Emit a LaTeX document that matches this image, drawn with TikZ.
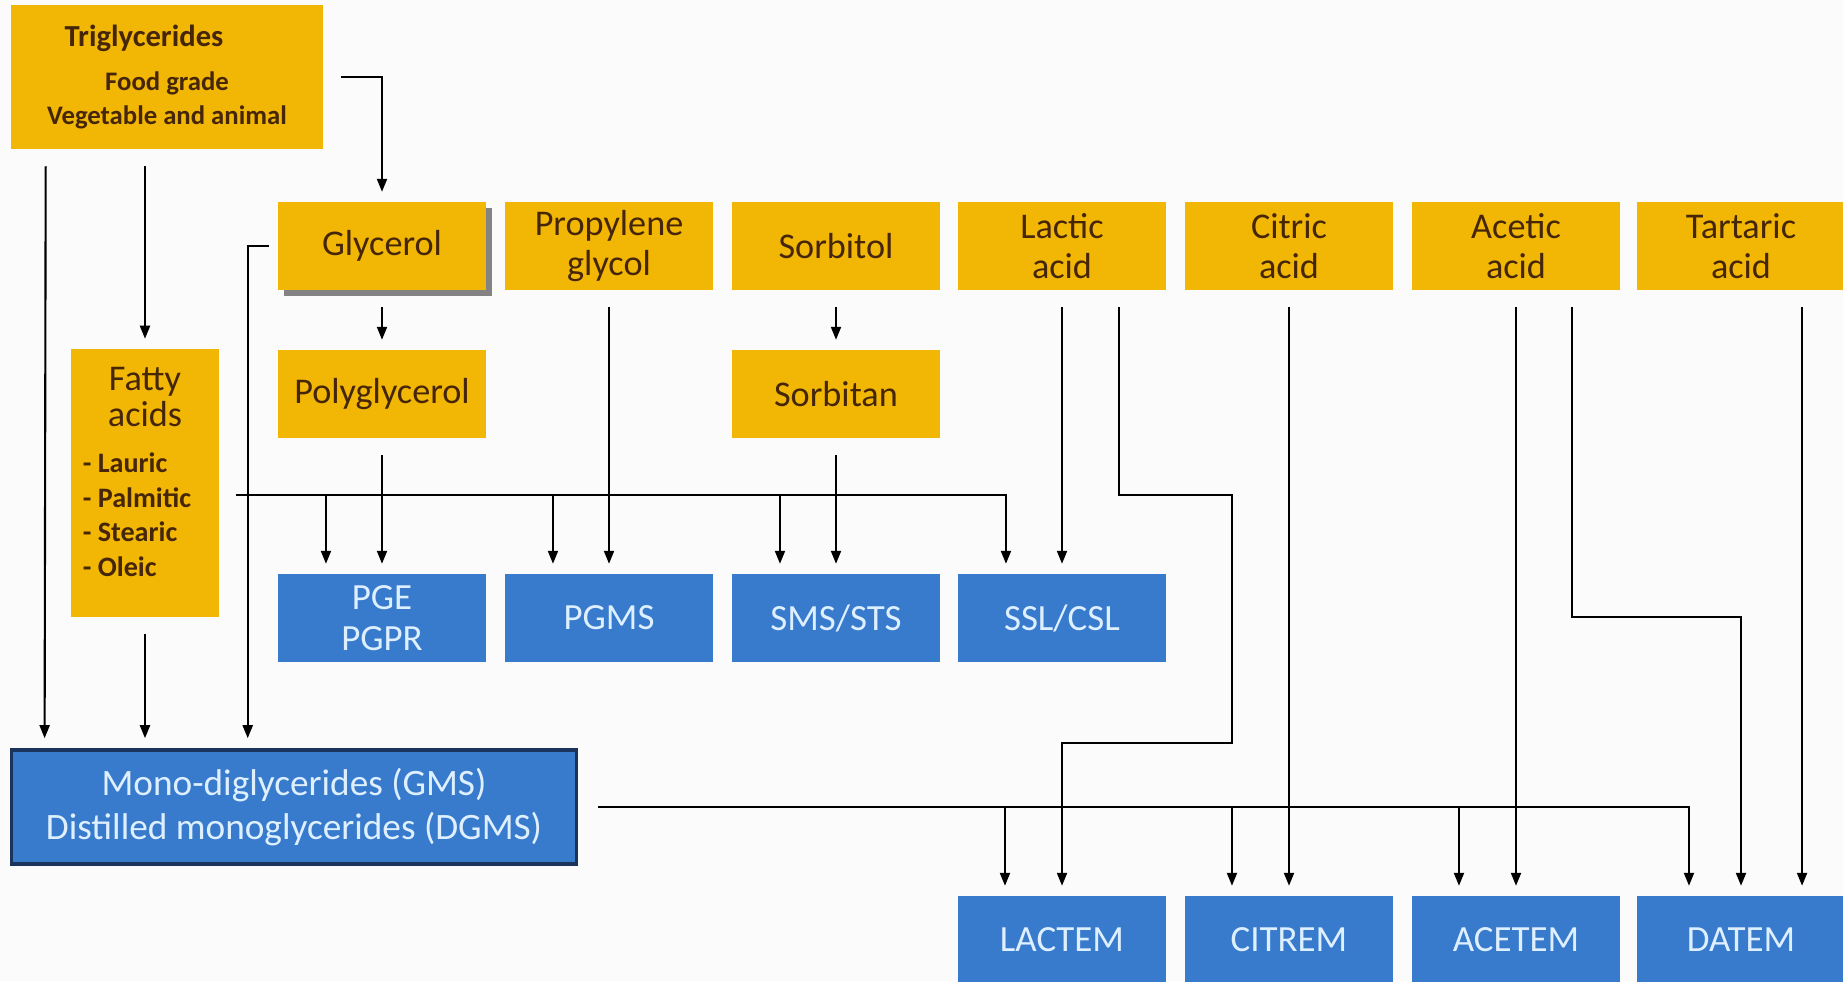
\documentclass[tikz,border=0pt]{standalone}
\usepackage{fontspec}
\setmainfont{Carlito}
\usetikzlibrary{arrows.meta,shadows}

\definecolor{gold}{RGB}{242,183,5}
\definecolor{darkbrown}{RGB}{70,38,8}
\definecolor{emblue}{RGB}{56,122,204}
\definecolor{paleblue}{RGB}{222,240,255}
\definecolor{navy}{RGB}{28,52,92}
\definecolor{bg}{RGB}{251,251,251}

\begin{document}
\begin{tikzpicture}[x=0.01cm, y=-0.01cm,
    >={Triangle[length=0.13cm, width=0.1cm]},
    link/.style={draw, ->, line width=0.6pt, shorten <=0.17cm, shorten >=0.1cm},
    bus/.style={draw, ->, line width=0.6pt, shorten >=0.1cm}]

        \useasboundingbox (0,0) rectangle (1843,981);
        \fill[bg] (0,0) rectangle (1843,981);

        \begin{scope}[every node/.style={rectangle, fill=gold, text=darkbrown, inner sep=0pt,
            minimum width=2.07cm, minimum height=0.87cm, align=center,
            font=\fontsize{10.3}{11.5}\selectfont}]
          \node[minimum width=3.11cm, minimum height=1.43cm, font=\bfseries\fontsize{7.6}{9.6}\selectfont]
            (1) at (167,77) {{\fontsize{8.7}{10}\selectfont Triglycerides}\hspace*{0.46cm}\\[0.1cm] Food grade\\ Vegetable and animal};
          \node[drop shadow={shadow xshift=0.06cm, shadow yshift=-0.06cm, fill=black!60, opacity=0.8}]
            (2) at (382,246) {Glycerol};
          \node[minimum width=1.48cm, minimum height=2.67cm, font=\fontsize{10.3}{10.2}\selectfont]
            (3) at (145,483) {Fatty\\ acids\\[0.1cm]\hspace*{-0.16cm}{\bfseries\fontsize{8}{9.9}\selectfont
              \begin{tabular}[t]{@{}l@{}}- Lauric\\ - Palmitic\\ - Stearic\\ - Oleic\end{tabular}}\\[0.08cm]};
          \node (4)  at (382,394)  {Polyglycerol};
          \node (5)  at (609,246)  {Propylene\\ glycol};
          \node (6)  at (836,246)  {Sorbitol};
          \node (7)  at (836,394)  {Sorbitan};
          \node (8)  at (1062,246) {Lactic\\ acid};
          \node (9)  at (1289,246) {Citric\\ acid};
          \node (10) at (1516,246) {Acetic\\ acid};
          \node (11) at (1741,246) {Tartaric\\ acid};
        \end{scope}

        \begin{scope}[every node/.style={rectangle, fill=emblue, text=paleblue, inner sep=0pt,
            minimum width=2.07cm, minimum height=0.87cm, align=center,
            font=\fontsize{10.5}{11.7}\selectfont}]
          \node[minimum width=5.65cm, minimum height=1.14cm, draw=navy, line width=1pt,
            font=\fontsize{10.6}{12.4}\selectfont]
            (12) at (294,807) {Mono-diglycerides (GMS)\\ Distilled monoglycerides (DGMS)};
          \node (13) at (382,618)  {PGE\\ PGPR};
          \node (14) at (609,618)  {PGMS};
          \node (15) at (836,618)  {SMS/STS};
          \node (16) at (1062,618) {SSL/CSL};
          \node (17) at (1062,940) {LACTEM};
          \node (18) at (1289,940) {CITREM};
          \node (19) at (1516,940) {ACETEM};
          \node (20) at (1741,940) {DATEM};
        \end{scope}

        \coordinate (fa) at ([xshift=0.16cm, yshift=-0.12cm]3.east);
        \coordinate (mb) at ([xshift=0.2cm]12.east);

        \begin{scope}[every edge/.style={link}]
          \path (2)  edge (4);
          \path (4)  edge (13);
          \path (5)  edge (14);
          \path (6)  edge (7);
          \path (7)  edge (15);
          \path (8)  edge (16);
          \path (9)  edge (18);
          \path (10) edge (19);
          \path (1.south -| 3.north) edge (3.north);
          \path (3.south) edge (3.south |- 12.north);
          \path ([xshift=0.35cm]1.south west) edge ([xshift=0.35cm]12.north west);
          \path ([xshift=0.61cm]11.south) edge ([xshift=0.61cm]20.north);
        \end{scope}

        \draw[bus] ([xshift=0.18cm]1.east) -| (2.north);
        \draw[bus] ([xshift=-0.09cm]2.west) -| ([xshift=2.38cm]12.north west);

        \draw[bus] (fa) -| ([xshift=-0.56cm]16.north);
        \foreach \n in {13,14,15}
          \draw[bus] ([xshift=-0.56cm]\n.north |- fa) -- ([xshift=-0.56cm]\n.north);

        \draw[bus] (mb) -| ([xshift=-0.52cm]20.north);
        \foreach \n in {17,18,19}
          \draw[bus] ([xshift=-0.57cm]\n.north |- mb) -- ([xshift=-0.57cm]\n.north);

        \draw[link] ([xshift=0.57cm]8.south) |- ([xshift=-0.57cm]18.north |- fa)
          |- ([yshift=0.64cm]mb -| 17.north) -- (17.north);
        \draw[link] ([xshift=0.56cm]10.south) |- ([yshift=-3.27cm]10.south -| 20.north) -- (20.north);

\end{tikzpicture}
\end{document}
